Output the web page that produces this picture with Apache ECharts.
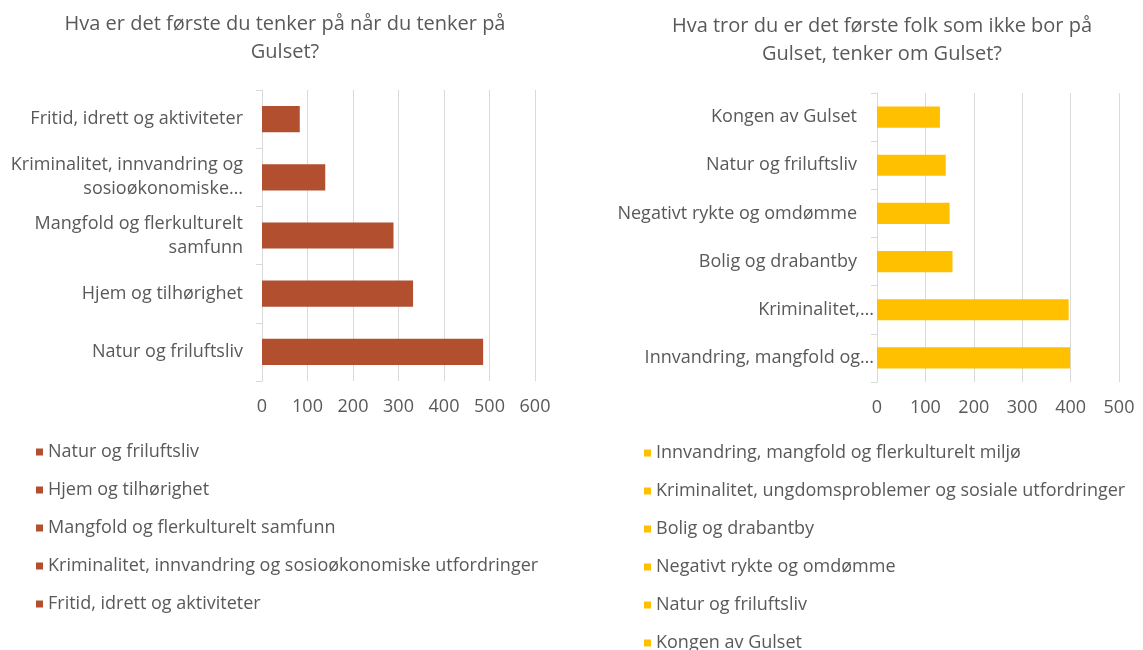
<!DOCTYPE html>
<html>
<head>
<meta charset="utf-8">
<script src="https://cdn.jsdelivr.net/npm/echarts@6/dist/echarts.min.js"></script>
<style>
  html, body { margin: 0; padding: 0; background: #fff; }
  #chart { width: 1143px; height: 650px; }
</style>
</head>
<body>
<div id="chart"></div>
<script>
// venstre diagram
const leftTitle = 'Hva er det første du tenker på når du tenker på\nGulset?';
const leftCategories = [
  'Natur og friluftsliv',
  'Hjem og tilhørighet',
  'Mangfold og flerkulturelt samfunn',
  'Kriminalitet, innvandring og sosioøkonomiske utfordringer',
  'Fritid, idrett og aktiviteter'
];
const leftAxisLabels = [
  'Natur og friluftsliv',
  'Hjem og tilhørighet',
  'Mangfold og flerkulturelt\nsamfunn',
  'Kriminalitet, innvandring og\nsosioøkonomiske…',
  'Fritid, idrett og aktiviteter'
];
const leftValues = [486, 332, 289, 139, 83];
const leftTicks = { max: 600, interval: 100 };

// høyre diagram
const rightTitle = 'Hva tror du er det første folk som ikke bor på\nGulset, tenker om Gulset?';
const rightCategories = [
  'Innvandring, mangfold og flerkulturelt miljø',
  'Kriminalitet, ungdomsproblemer og sosiale utfordringer',
  'Bolig og drabantby',
  'Negativt rykte og omdømme',
  'Natur og friluftsliv',
  'Kongen av Gulset'
];
const rightAxisLabels = [
  'Innvandring, mangfold og…',
  'Kriminalitet,…',
  'Bolig og drabantby',
  'Negativt rykte og omdømme',
  'Natur og friluftsliv',
  'Kongen av Gulset'
];
const rightValues = [399, 396, 156, 150, 142, 130];
const rightTicks = { max: 500, interval: 100 };

const leftColor = '#B24F2F';
const rightColor = '#FFC000';
const textColor = '#595959';
const gridColor = '#d9d9d9';
const font = 'Open Sans';

const chart = echarts.init(document.getElementById('chart'));

function makeSeries(cats, vals, idx, color, gap) {
  return cats.map((name, i) => ({
    type: 'bar',
    name: name,
    xAxisIndex: idx,
    yAxisIndex: idx,
    stack: 's' + idx,
    barCategoryGap: gap,
    itemStyle: { color: color },
    data: vals.map((v, j) => (j === i ? v : '-'))
  }));
}

// avkortede etiketter står litt nærmere aksen (som i Excel)
function yAxisFor(idx, labels, shiftCut) {
  return {
    type: 'category',
    gridIndex: idx,
    data: labels,
    axisLine: { show: true, lineStyle: { color: gridColor } },
    axisTick: { show: true, length: 6, lineStyle: { color: gridColor } },
    axisLabel: {
      color: textColor, fontSize: 18, fontFamily: font, lineHeight: 24,
      margin: shiftCut ? 3 : 19,
      formatter: shiftCut
        ? (v) => (v.endsWith('…') ? '{c|' + v + '}' : '{n|' + v + '}')
        : null,
      rich: shiftCut ? {
        c: { color: textColor, fontSize: 18, fontFamily: font },
        n: { color: textColor, fontSize: 18, fontFamily: font, padding: [0, 17, 0, 0] }
      } : undefined
    }
  };
}

function xAxisFor(idx, ticks) {
  return {
    type: 'value',
    gridIndex: idx,
    min: 0,
    max: ticks.max,
    interval: ticks.interval,
    axisLine: { show: false },
    axisTick: { show: false },
    splitLine: { lineStyle: { color: gridColor, width: 1 } },
    axisLabel: { color: textColor, fontSize: 18, fontFamily: font, margin: 17 }
  };
}

function legendFor(cats, color, left, top) {
  return {
    data: cats.map((name) => ({ name: name, itemStyle: { color: color } })),
    orient: 'vertical', left: left, top: top, height: 240, padding: 0,
    icon: 'rect', itemWidth: 7, itemHeight: 7, itemGap: 20,
    selectedMode: false,
    textStyle: { color: textColor, fontSize: 18, fontFamily: font }
  };
}

const option = {
  animation: false,
  textStyle: { fontFamily: font },
  title: [
    {
      text: leftTitle, left: 280, top: 5, textAlign: 'center',
      textStyle: { color: textColor, fontSize: 20, fontWeight: 'normal', fontFamily: font, lineHeight: 28 }
    },
    {
      text: rightTitle, left: 877, top: 7, textAlign: 'center',
      textStyle: { color: textColor, fontSize: 20, fontWeight: 'normal', fontFamily: font, lineHeight: 28 }
    }
  ],
  legend: [
    legendFor(leftCategories, leftColor, 36, 443),
    legendFor(rightCategories, rightColor, 644, 444)
  ],
  grid: [
    { left: 262, right: 608, top: 90, height: 291 },
    { left: 877, right: 24, top: 93, height: 289 }
  ],
  xAxis: [xAxisFor(0, leftTicks), xAxisFor(1, rightTicks)],
  yAxis: [yAxisFor(0, leftAxisLabels, false), yAxisFor(1, rightAxisLabels, true)],
  series: [
    ...makeSeries(leftCategories, leftValues, 0, leftColor, '55%'),
    ...makeSeries(rightCategories, rightValues, 1, rightColor, '56%')
  ]
};

chart.setOption(option);
</script>
</body>
</html>
